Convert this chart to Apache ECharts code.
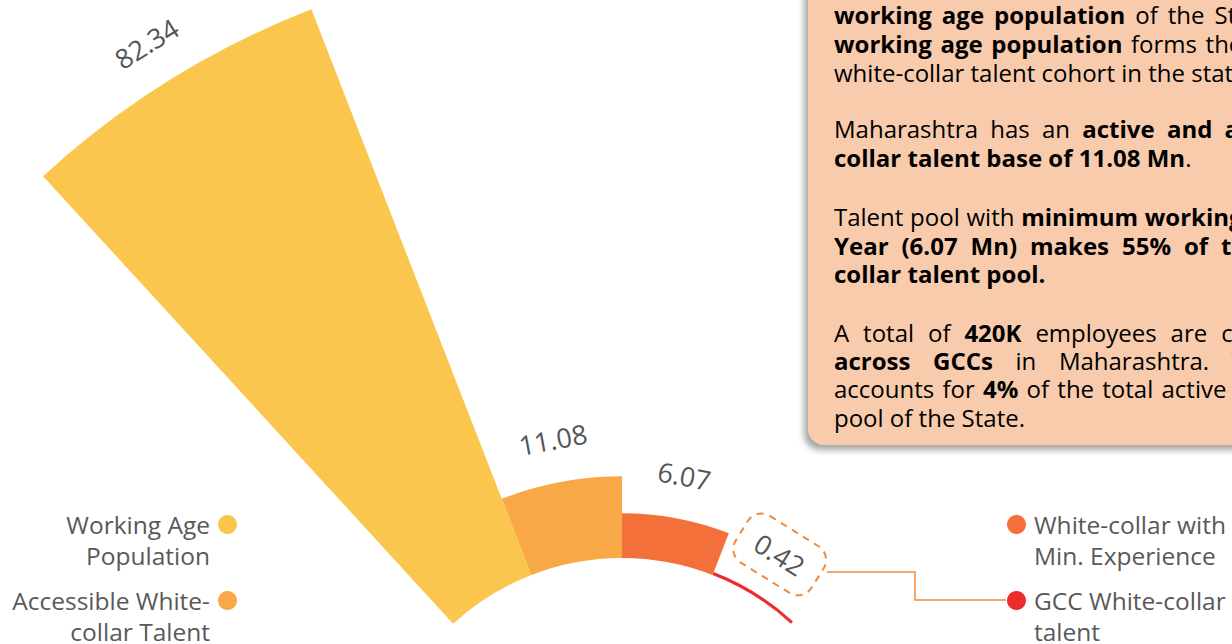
<!DOCTYPE html>
<html>
<head>
<meta charset="utf-8">
<script src="https://cdn.jsdelivr.net/npm/echarts@6/dist/echarts.min.js"></script>
<style>
  html, body { margin: 0; padding: 0; width: 1232px; height: 644px; overflow: hidden; background: #fff; }
  #chart { position: absolute; left: 0; top: 0; width: 1232px; height: 644px; }
  #note {
    position: absolute; left: 808px; top: -60px; width: 520px; height: 505px;
    background: #f8cbad; border-radius: 16px;
    box-shadow: -4px 5px 6px rgba(0, 0, 0, 0.35);
    font-family: "Open Sans", sans-serif; font-size: 24px; color: #000;
  }
  .ln { position: absolute; left: 26px; white-space: nowrap; line-height: 29px; }
  .ln b { font-weight: 700; }
</style>
</head>
<body>
<div id="chart"></div>
<div id="note"></div>
<script>
// chart data
const categories = [
  "Working Age Population",
  "Accessible White-collar Talent",
  "White-collar with Min. Experience",
  "GCC White-collar talent",
];
const legendLabels = [
  "Working Age\nPopulation",
  "Accessible White-\ncollar Talent",
  "White-collar with\nMin. Experience",
  "GCC White-collar\ntalent",
];
const values = [82.34, 11.08, 6.07, 0.42];
const colors = ["#FAC64E", "#F9A847", "#F4703B", "#EE2C2C"];

// note panel text: *bold*, [line centre y, anchor word index, anchor x]
const noteLines = [
  ["*working age population* of the State. The", 14, 4, 1168],
  ["*working age population* forms the basis of", 43, 3, 1131],
  ["white-collar talent cohort in the state.", 72, null, null],
  ["Maharashtra has an *active and accessible white-*", 128, 5, 1225],
  ["*collar talent base of 11.08 Mn*.", 157, null, null],
  ["Talent pool with *minimum working experience of 1*", 216, 4, 1145],
  ["*Year (6.07 Mn) makes 55% of the total white-*", 245, 6, 1221],
  ["*collar talent pool.*", 273, null, null],
  ["A total of *420K* employees are currently working", 332, 6, 1221],
  ["*across GCCs* in Maharashtra. This", 360, 3, 1059],
  ["accounts for *4%* of the total active white-collar", 388, 6, 1162],
  ["pool of the State.", 417, null, null],
];

const note = document.getElementById("note");
noteLines.forEach(([txt, y, anchor, ax]) => {
  const div = document.createElement("div");
  div.className = "ln";
  div.style.top = (y + 60 - 14.5) + "px";
  let bold = false;
  const words = txt.split(" ").map((w) => {
    let out = bold ? "<b>" : "";
    for (const ch of w) {
      if (ch === "*") { out += bold ? "</b>" : "<b>"; bold = !bold; }
      else out += ch;
    }
    if (bold) out += "</b>";
    return out;
  });
  div.innerHTML = words.map((w) => "<span>" + w + "</span>").join(" ");
  note.appendChild(div);
  if (anchor !== null) {
    const sp = div.children[anchor];
    const now = 834 + sp.offsetLeft;
    div.style.wordSpacing = Math.max(0, (ax - now) / anchor) + "px";
  }
});

const chart = echarts.init(document.getElementById("chart"), null, { renderer: "svg" });

const startAngle = 132.5;
const endAngle = 47.5;
const step = (startAngle - endAngle) / categories.length;

const series = categories.map((name, i) => {
  const mid = startAngle - step * (i + 0.5);
  const label = {
    show: true,
    position: "end",
    distance: 30,
    // polar bar label rotation is taken in radians here
    rotate: ((mid - 90) * Math.PI) / 180,
    fontFamily: "Open Sans",
    fontSize: 27,
    color: "#555",
  };
  if (i === 3) {
    Object.assign(label, {
      borderType: [7, 6],
      borderColor: "#F08A3C",
      borderWidth: 2,
      borderRadius: 16,
      padding: [14, 18],
      distance: 18,
    });
  }
  return {
    type: "bar",
    coordinateSystem: "polar",
    name,
    data: values.map((v, j) => (j === i ? v : "-")),
    barGap: "-100%",
    barCategoryGap: "0%",
    itemStyle: { color: colors[i] },
    label,
  };
});

const legendBase = {
  orient: "vertical",
  icon: "circle",
  itemWidth: 19,
  itemHeight: 19,
  padding: 0,
  selectedMode: false,
  // leading empty line keeps the dot level with the first text line
  formatter: (n) => "\n" + legendLabels[categories.indexOf(n)],
  textStyle: {
    fontFamily: "Open Sans",
    fontSize: 24.5,
    lineHeight: 31,
    color: "#595959",
    padding: [0, 3, 0, 3],
  },
};

chart.setOption({
  animation: false,
  polar: { center: [622, 808], radius: [250, 857] },
  angleAxis: {
    type: "category",
    data: categories,
    startAngle,
    endAngle,
    clockwise: true,
    axisLine: { show: false },
    axisTick: { show: false },
    axisLabel: { show: false },
    splitLine: { show: false },
  },
  radiusAxis: {
    type: "value",
    min: 0,
    max: values[0],
    axisLine: { show: false },
    axisTick: { show: false },
    axisLabel: { show: false },
    splitLine: { show: false },
  },
  legend: [
    { ...legendBase, data: [categories[0]], align: "right", right: 995, top: 478 },
    { ...legendBase, data: [categories[1]], align: "right", right: 995, top: 554 },
    { ...legendBase, data: [categories[2]], align: "left", left: 1007, top: 478 },
    { ...legendBase, data: [categories[3]], align: "left", left: 1007, top: 554 },
  ],
  graphic: [
    {
      type: "polyline",
      shape: { points: [[827, 572], [915, 572], [915, 600], [1006, 600]] },
      style: { stroke: "#F08A3C", lineWidth: 1.5, fill: null },
    },
  ],
  series,
});
</script>
</body>
</html>
